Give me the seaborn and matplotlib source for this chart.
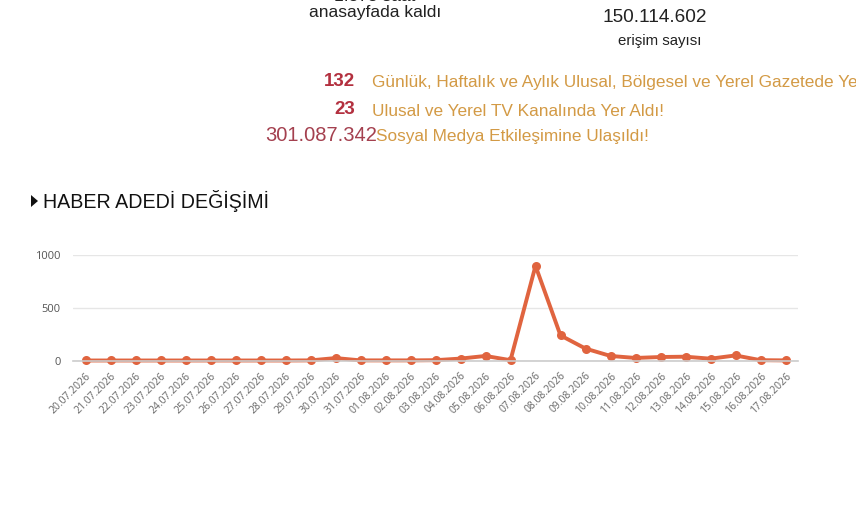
import matplotlib
matplotlib.use("Agg")
import matplotlib.pyplot as plt
from matplotlib.patches import Polygon
import seaborn as sns
import pandas as pd
import numpy as np

dates = ["20.07.2026", "21.07.2026", "22.07.2026", "23.07.2026", "24.07.2026",
         "25.07.2026", "26.07.2026", "27.07.2026", "28.07.2026", "29.07.2026",
         "30.07.2026", "31.07.2026", "01.08.2026", "02.08.2026", "03.08.2026",
         "04.08.2026", "05.08.2026", "06.08.2026", "07.08.2026", "08.08.2026",
         "09.08.2026", "10.08.2026", "11.08.2026", "12.08.2026", "13.08.2026",
         "14.08.2026", "15.08.2026", "16.08.2026", "17.08.2026"]
counts = [2, 2, 2, 2, 2, 2, 2, 2, 2, 3, 25, 3, 3, 3, 5,
          20, 45, 5, 900, 240, 115, 45, 26, 35, 38, 19, 50, 5, 3]
y_ticks = [0, 500, 1000]

df = pd.DataFrame({"tarih": dates, "adet": counts})
df["pos"] = np.arange(len(dates))

sns.set_theme(style="white")
plt.rcParams["font.family"] = ["Liberation Sans", "DejaVu Sans"]

W, H = 856, 511
fig = plt.figure(figsize=(W / 100, H / 100), dpi=100)

def fx(px):
    return px / W

def fy(py):
    return 1 - py / H

# Header texts (first line is cut by the top edge, as in the source image)
fig.text(fx(375), fy(-3), "1.373 saat", ha="center", va="center", fontsize=12.5, color="#222222")
fig.text(fx(375), fy(13), "anasayfada kaldı", ha="center", va="center", fontsize=12.5, color="#222222")
fig.text(fx(655), fy(18), "150.114.602", ha="center", va="center", fontsize=13.7, color="#222222")
fig.text(fx(660), fy(41), "erişim sayısı", ha="center", va="center", fontsize=10.8, color="#222222")

dark_red = "#b3303f"
orange = "#d39a45"
fig.text(fx(355), fy(82), "132", ha="right", va="center", fontsize=13.5, color=dark_red, fontweight="bold")
fig.text(fx(372), fy(82), "Günlük, Haftalık ve Aylık Ulusal, Bölgesel ve Yerel Gazetede Yer Aldı!",
         ha="left", va="center", fontsize=12.4, color=orange)
fig.text(fx(355), fy(109), "23", ha="right", va="center", fontsize=13.5, color=dark_red, fontweight="bold")
fig.text(fx(372), fy(111), "Ulusal ve Yerel TV Kanalında Yer Aldı!",
         ha="left", va="center", fontsize=12.4, color=orange)
fig.text(fx(377), fy(135), "301.087.342", ha="right", va="center", fontsize=14.5, color="#a4404f")
fig.text(fx(376), fy(137), "Sosyal Medya Etkileşimine Ulaşıldı!",
         ha="left", va="center", fontsize=12.4, color=orange)

# Section title with a small bullet triangle
fig.add_artist(Polygon([[fx(31), fy(195)], [fx(31), fy(207)], [fx(38), fy(201)]],
                       closed=True, transform=fig.transFigure, facecolor="#111111",
                       edgecolor="none"))
fig.text(fx(43), fy(201), "HABER ADEDİ DEĞİŞİMİ", ha="left", va="center", fontsize=14.1, color="#111111")

# Chart axes
ax_left, ax_right = 73, 798
ax_bottom, ax_top = 360.7, 255.3
ax = fig.add_axes([fx(ax_left), fy(ax_bottom), fx(ax_right - ax_left), (ax_bottom - ax_top) / H])

line_color = "#e0643f"
sns.lineplot(data=df, x="pos", y="adet", ax=ax, color=line_color, linewidth=2.8,
             marker="o", markersize=6.5, markeredgewidth=0, clip_on=False)

ax.set_xlim(-0.5, len(dates) - 0.5)
ax.set_ylim(0, 1000)
ax.set_yticks(y_ticks)
ax.set_yticklabels([str(v) for v in y_ticks], fontsize=8, color="#555555", family="Open Sans")
ax.tick_params(axis="y", length=0, pad=9)
ax.yaxis.grid(True, color="#e6e6e6", linewidth=1)
ax.xaxis.grid(False)
ax.set_axisbelow(True)

ax.set_xticks(df["pos"])
ax.set_xticklabels(dates, rotation=45, ha="right", rotation_mode="anchor",
                   fontsize=7.5, color="#666666", family="Open Sans")
ax.tick_params(axis="x", which="major", length=0, pad=7)
ax.set_xticks(np.arange(-0.5, len(dates), 1.0), minor=True)
ax.tick_params(axis="x", which="minor", length=6, width=1, color="#cccccc", direction="out")

for s in ["top", "left", "right"]:
    ax.spines[s].set_visible(False)
ax.spines["bottom"].set_color("#cccccc")
ax.spines["bottom"].set_linewidth(1.2)
ax.set_xlabel("")
ax.set_ylabel("")
ax.set_facecolor("white")

fig.savefig("out.png", dpi=100, facecolor="white")
